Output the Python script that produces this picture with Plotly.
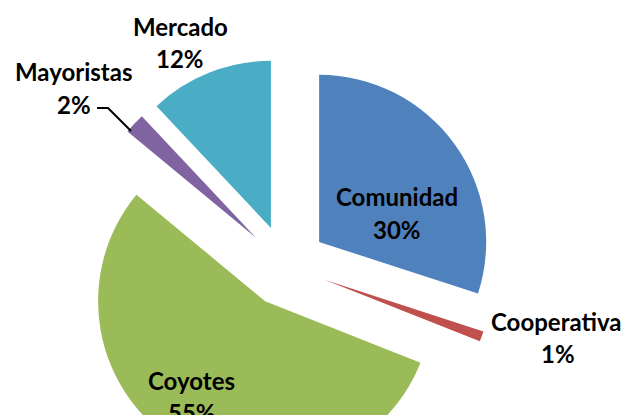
import plotly.graph_objects as go

# data
labels = ['Comunidad', 'Cooperativa', 'Coyotes', 'Mayoristas', 'Mercado']
values = [30, 1, 55, 2, 12]
colors = ['#4F81BD', '#C0504D', '#9BBB59', '#8064A2', '#4BACC6']

W, H = 625, 520  # page is taller than the window, so the bottom gets cut like the original


def px(x, y):
    # pixel position -> paper coords
    return x / W, 1 - y / H


total = sum(values)
pcts = [f'{v / total * 100:.0f}%' for v in values]

# pie box: center (286, 266), side 416 px
cx, cy, side = 286, 266, 416
fig = go.Figure(go.Pie(
    labels=labels,
    values=values,
    sort=False,
    direction='clockwise',
    rotation=0,
    pull=[0.245] * len(values),
    marker=dict(colors=colors, line=dict(width=0)),
    textinfo='none',
    hoverinfo='label+percent',
    showlegend=False,
    domain=dict(x=[(cx - side / 2) / W, (cx + side / 2) / W],
                y=[(H - cy - side / 2) / H, (H - cy + side / 2) / H]),
))

# label placement (name line, percent line), in pixels
label_pos = {
    'Comunidad': [(397, 196), (397, 229)],
    'Cooperativa': [(556, 321), (558, 353)],
    'Coyotes': [(192, 380), (192, 412)],
    'Mayoristas': [(74, 72), (74, 105)],
    'Mercado': [(180, 26), (180, 58)],
}

annotations = []
for name, pct in zip(labels, pcts):
    for txt, (x, y) in zip([name, pct], label_pos[name]):
        ax, ay = px(x, y)
        annotations.append(dict(
            x=ax, y=ay, xref='paper', yref='paper', text=txt, showarrow=False,
            xanchor='center', yanchor='middle',
            font=dict(family='Lato', size=24, color='#000000', weight='bold'),
        ))

# leader line for Mayoristas
p1, p2, p3 = px(97, 108), px(108, 108), px(131, 131)
shapes = [dict(
    type='path', xref='paper', yref='paper',
    path=f'M {p1[0]},{p1[1]} L {p2[0]},{p2[1]} L {p3[0]},{p3[1]}',
    line=dict(color='#000000', width=2),
)]

fig.update_layout(
    width=W, height=H,
    margin=dict(l=0, r=0, t=0, b=0),
    paper_bgcolor='white',
    plot_bgcolor='white',
    annotations=annotations,
    shapes=shapes,
)

fig.write_html('out.html',
               config={'displayModeBar': False},
               post_script="document.body.style.margin='0';"
                           "document.body.style.overflow='hidden';"
                           "document.documentElement.style.overflow='hidden';")
